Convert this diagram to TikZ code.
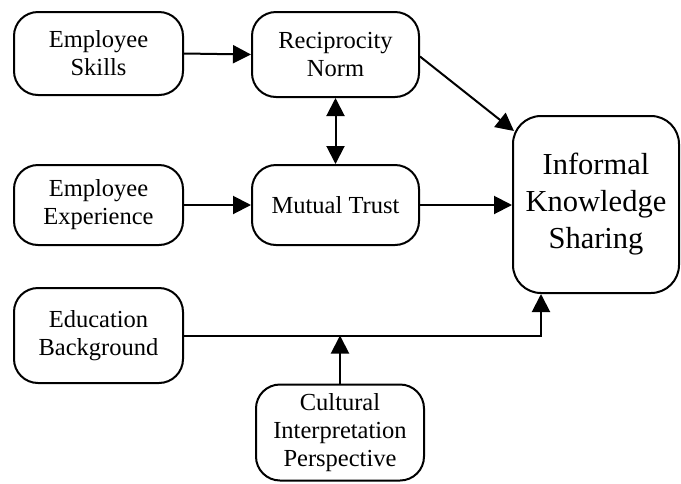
\documentclass[tikz,border=0pt]{standalone}
\usepackage{fontspec}
\setmainfont{Liberation Serif}
\usetikzlibrary{arrows.meta,calc}
\begin{document}
\begin{tikzpicture}[x=1pt,y=-1pt,
  box/.style={draw,line width=2pt,rounded corners=24pt,align=center,inner sep=2pt,
    font=\fontsize{24.5}{28}\selectfont},
  big/.style={box,rounded corners=28pt,font=\fontsize{30.5}{37}\selectfont},
  tip/.style={Triangle[length=18pt,width=18pt]},
  arr/.style={line width=2pt,-{Triangle[length=18pt,width=18pt]}},
  darr/.style={line width=2pt,{Triangle[length=18pt,width=18pt]}-{Triangle[length=18pt,width=18pt]}}]
\useasboundingbox (0,0) rectangle (681,483);
\node[box,minimum width=169pt,minimum height=83pt] (S) at (98.5,53.5) {Employee\\Skills};
\node[box,minimum width=167pt,minimum height=85pt] (R) at (335.5,54.5) {Reciprocity\\Norm};
\node[box,minimum width=169pt,minimum height=80pt] (X) at (98.5,205) {Employee\\Experience};
\node[box,minimum width=167pt,minimum height=80pt] (M) at (335.5,205) {Mutual Trust};
\node[box,minimum width=169pt,minimum height=95pt] (E) at (98.5,335.5) {Education\\Background};
\node[box,minimum width=168pt,minimum height=96pt] (C) at (340,432.5) {Cultural\\Interpretation\\Perspective};
\node[big,minimum width=166pt,minimum height=177pt] (I) at (596,204.5) {Informal\\Knowledge\\Sharing};
\draw[arr] (S.east) -- (R.west);
\draw[arr] (X.east) -- (M.west);
\draw[arr] (M.east) -- (M.east -| I.west);
\draw[darr] (R.south) -- (M.north);
\draw[arr] ($(R.east)+(0,2)$) -- ($(I.north west)+(2,16)$);
\coordinate (J) at ($(I.south west)+(29,0)$);
\draw[arr] (E.east) -| (J);
\draw[arr] (C.north) -- (C.north |- E.east);
\end{tikzpicture}
\end{document}
